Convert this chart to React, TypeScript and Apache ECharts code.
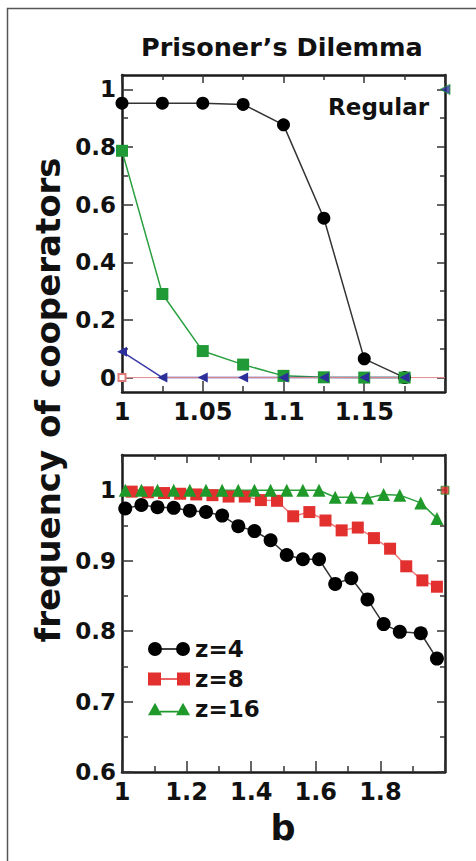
import React, { useEffect, useRef } from "react";
import * as echarts from "echarts";

// ---------- Data: top panel (Regular) ----------
const topB = [1, 1.025, 1.05, 1.075, 1.1, 1.125, 1.15, 1.175];
const topBlack = [0.952, 0.952, 0.952, 0.948, 0.877, 0.553, 0.065, 0.0];
const topGreen = [0.787, 0.29, 0.092, 0.045, 0.006, 0.001, 0.0, 0.0];
const topBlue = [0.09, 0, 0, 0, 0, 0, 0, 0];
const topPinkB = [1, 1.2];
const topPink = [0, 0];
const topEdgeB = [1.2];
const topEdge = [1.0];

// ---------- Data: bottom panel ----------
const botB = [1.01, 1.06, 1.11, 1.16, 1.21, 1.26, 1.31, 1.36, 1.41, 1.46, 1.51, 1.56, 1.61, 1.66, 1.71, 1.76, 1.81, 1.86, 1.925, 1.975];
const botZ4 = [0.974, 0.979, 0.976, 0.975, 0.971, 0.969, 0.964, 0.949, 0.942, 0.929, 0.908, 0.902, 0.902, 0.867, 0.875, 0.845, 0.81, 0.799, 0.797, 0.761];
const botZ16 = [1, 1, 1, 1, 1, 1, 1, 1, 1, 1, 1, 1, 1, 0.99, 0.99, 0.989, 0.994, 0.993, 0.982, 0.96];
const botZ8B = [1.03, 1.08, 1.13, 1.18, 1.23, 1.28, 1.33, 1.38, 1.43, 1.48, 1.53, 1.58, 1.63, 1.68, 1.73, 1.78, 1.83, 1.88, 1.93, 1.975];
const botZ8 = [0.998, 0.997, 0.996, 0.995, 0.994, 0.993, 0.991, 0.991, 0.986, 0.985, 0.963, 0.969, 0.957, 0.943, 0.947, 0.932, 0.917, 0.892, 0.872, 0.863];
const botEdgeB = [2];
const botEdge = [1];

// ---------- Tick values ----------
const topXMajor = [1, 1.05, 1.1, 1.15, 1.2];
const topXLabels = [1, 1.05, 1.1, 1.15];
const topXMinor = [1.025, 1.075, 1.125, 1.175];
const topYMajor = [0, 0.2, 0.4, 0.6, 0.8, 1];
const topYMinor = [0.1, 0.3, 0.5, 0.7, 0.9];
const botXMajor = [1, 1.2, 1.4, 1.6, 1.8, 2];
const botXLabels = [1, 1.2, 1.4, 1.6, 1.8];
const botXMinor = [1.1, 1.3, 1.5, 1.7, 1.9];
const botYMajor = [0.6, 0.7, 0.8, 0.9, 1];
const botYMinor = [0.65, 0.75, 0.85, 0.95];

const FONT = "DejaVu Sans";
const zip = (xs: number[], ys: number[]) => xs.map((x, i) => [x, ys[i]]);
const fmt = (v: number) => String(Number(v.toFixed(3)));

function makeAxes(
  dim: "x" | "y",
  grid: number,
  min: number,
  max: number,
  major: number[],
  minor: number[],
  labels: number[]
) {
  const pos1 = dim === "x" ? "bottom" : "left";
  const pos2 = dim === "x" ? "top" : "right";
  const base = { type: "value", gridIndex: grid, min, max, splitLine: { show: false } };
  const line = { show: true, onZero: false, lineStyle: { color: "#1a1a1a", width: 2.5 } };
  const noLine = { show: false, onZero: false };
  const tick = (vals: number[], len: number) => ({
    show: true,
    inside: true,
    length: len,
    customValues: vals,
    lineStyle: { color: "#333", width: 1.5 },
  });
  return [
    {
      ...base,
      position: pos1,
      axisLine: line,
      axisTick: tick(major, 11),
      axisLabel: {
        show: true,
        customValues: labels,
        margin: dim === "x" ? 8 : 6,
        formatter: fmt,
        fontFamily: FONT,
        fontWeight: "bold",
        fontSize: dim === "x" ? 24 : 23,
        color: "#111",
      },
    },
    { ...base, position: pos1, axisLine: noLine, axisTick: tick(minor, 6), axisLabel: { show: false } },
    { ...base, position: pos2, axisLine: line, axisTick: tick(major, 8), axisLabel: { show: false } },
    { ...base, position: pos2, axisLine: noLine, axisTick: tick(minor, 5), axisLabel: { show: false } },
  ];
}

const circleIcon =
  "path://M0,7A7,7,0,1,1,14,7A7,7,0,1,1,0,7Z M13,6.2L29,6.2L29,7.8L13,7.8Z M28,7A7,7,0,1,1,42,7A7,7,0,1,1,28,7Z";
const squareIcon =
  "path://M0,0.5L13,0.5L13,13.5L0,13.5Z M12,6.2L30,6.2L30,7.8L12,7.8Z M29,0.5L42,0.5L42,13.5L29,13.5Z";
const triIcon =
  "path://M0,13L7,0.5L14,13Z M12,8.6L30,8.6L30,10.2L12,10.2Z M28,13L35,0.5L42,13Z";

export default function App() {
  const ref = useRef<HTMLDivElement>(null);
  useEffect(() => {
    if (!ref.current) return;
    const chart = echarts.init(ref.current, undefined, { renderer: "svg" });
    const option: any = {
      animation: false,
      backgroundColor: "#ffffff",
      title: {
        text: "Prisoner’s Dilemma",
        left: 141,
        top: 34,
        padding: 0,
        textStyle: { fontFamily: FONT, fontWeight: "bold", fontSize: 25.5, color: "#111" },
      },
      grid: [
        { left: 122, top: 75, width: 323, height: 317 },
        { left: 122, top: 455, width: 323, height: 317 },
      ],
      xAxis: [
        ...makeAxes("x", 0, 1, 1.2, topXMajor, topXMinor, topXLabels),
        ...makeAxes("x", 1, 1, 2, botXMajor, botXMinor, botXLabels),
      ],
      yAxis: [
        ...makeAxes("y", 0, -0.05, 1.05, topYMajor, topYMinor, topYMajor),
        ...makeAxes("y", 1, 0.6, 1.05, botYMajor, botYMinor, botYMajor),
      ],
      legend: {
        orient: "vertical",
        left: 148,
        top: 637,
        padding: 0,
        itemWidth: 42,
        itemHeight: 14,
        itemGap: 6,
        textStyle: { fontFamily: FONT, fontWeight: "bold", fontSize: 23, lineHeight: 24, color: "#111" },
        data: [
          { name: "z=4", icon: circleIcon },
          { name: "z=8", icon: squareIcon },
          { name: "z=16", icon: triIcon },
        ],
      },
      graphic: [
        {
          type: "polyline",
          shape: { points: [[7.5, 861], [7.5, 8.5], [476, 8.5]] },
          style: { stroke: "#555", lineWidth: 1.5, fill: null },
          silent: true,
        },
        {
          type: "text",
          x: 48,
          y: 400,
          rotation: Math.PI / 2,
          style: {
            text: "frequency of cooperators",
            fontFamily: FONT,
            fontWeight: "bold",
            fontSize: 34,
            fill: "#111",
            align: "center",
            verticalAlign: "middle",
          },
        },
        {
          type: "text",
          x: 429,
          y: 107,
          style: {
            text: "Regular",
            fontFamily: FONT,
            fontWeight: "bold",
            fontSize: 23,
            fill: "#111",
            align: "right",
            verticalAlign: "middle",
          },
        },
        {
          type: "text",
          x: 283,
          y: 828,
          style: {
            text: "b",
            fontFamily: FONT,
            fontWeight: "bold",
            fontSize: 35,
            fill: "#111",
            align: "center",
            verticalAlign: "middle",
          },
        },
      ],
      series: [
        // top panel
        {
          type: "line",
          name: "Regular z=4",
          xAxisIndex: 0,
          yAxisIndex: 0,
          data: zip(topB, topBlack),
          symbol: "circle",
          symbolSize: 13,
          itemStyle: { color: "#000" },
          lineStyle: { color: "#333", width: 1.5 },
        },
        {
          type: "line",
          name: "Regular z=8",
          xAxisIndex: 0,
          yAxisIndex: 0,
          data: zip(topB, topGreen),
          symbol: "rect",
          symbolSize: 12,
          itemStyle: { color: "#1f9a36" },
          lineStyle: { color: "#2aa040", width: 1.5 },
        },
        {
          type: "line",
          name: "Regular z=16",
          xAxisIndex: 0,
          yAxisIndex: 0,
          data: zip(topB, topBlue),
          symbol: "triangle",
          symbolRotate: 90,
          symbolSize: 10,
          itemStyle: { color: "#2c2f9a" },
          lineStyle: { color: "#3a3aa8", width: 1.5 },
        },
        {
          type: "line",
          name: "Regular z=2",
          xAxisIndex: 0,
          yAxisIndex: 0,
          data: zip(topPinkB, topPink).map((p, i) => ({ value: p, symbol: i === 0 ? "emptyRect" : "none" })),
          symbolSize: 7,
          itemStyle: { color: "#e07a7a", borderWidth: 1 },
          lineStyle: { color: "#e58a8a", width: 1 },
        },
        {
          type: "scatter",
          name: "Regular edge",
          xAxisIndex: 0,
          yAxisIndex: 0,
          data: zip(topEdgeB, topEdge),
          symbol: "triangle",
          symbolRotate: 90,
          symbolSize: 10,
          itemStyle: { color: "#2c2f9a", borderColor: "#1f9a36", borderWidth: 1 },
        },
        // bottom panel
        {
          type: "line",
          name: "z=4",
          xAxisIndex: 4,
          yAxisIndex: 4,
          data: zip(botB, botZ4),
          symbol: "circle",
          symbolSize: 14,
          itemStyle: { color: "#000" },
          lineStyle: { color: "#333", width: 1.5 },
        },
        {
          type: "line",
          name: "z=8",
          xAxisIndex: 4,
          yAxisIndex: 4,
          data: zip(botZ8B, botZ8),
          symbol: "rect",
          symbolSize: 12,
          itemStyle: { color: "#e2302f" },
          lineStyle: { color: "#f07a7a", width: 1.5 },
        },
        {
          type: "line",
          name: "z=16",
          xAxisIndex: 4,
          yAxisIndex: 4,
          data: zip(botB, botZ16),
          symbol: "triangle",
          symbolSize: 13,
          itemStyle: { color: "#1f9a2a" },
          lineStyle: { color: "#2aa03a", width: 1.5 },
        },
        {
          type: "scatter",
          name: "edge",
          xAxisIndex: 4,
          yAxisIndex: 4,
          data: zip(botEdgeB, botEdge),
          symbol: "rect",
          symbolSize: 8,
          itemStyle: { color: "#e2302f", borderColor: "#1f9a2a", borderWidth: 1 },
        },
      ],
    };
    chart.setOption(option);
    return () => chart.dispose();
  }, []);
  return (
    <div
      ref={ref}
      style={{ position: "absolute", left: 0, top: 0, width: 476, height: 861 }}
    />
  );
}
